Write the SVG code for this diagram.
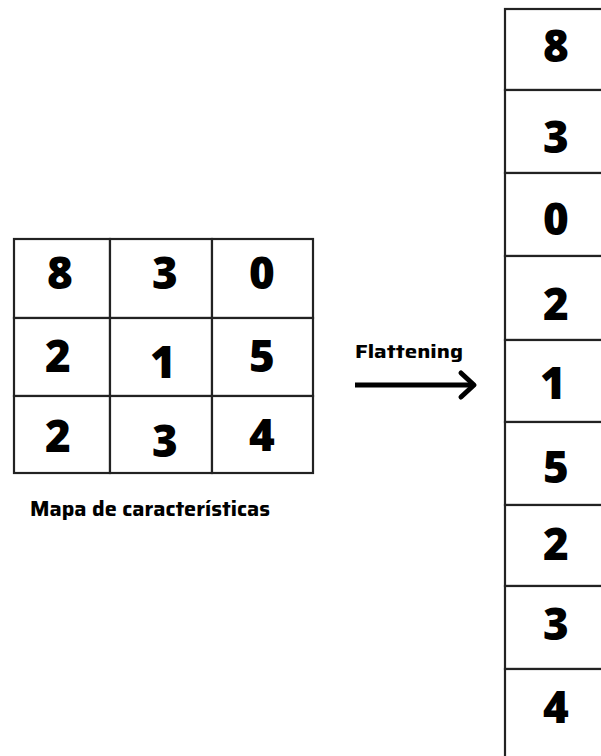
<svg xmlns="http://www.w3.org/2000/svg" width="601" height="756" viewBox="0 0 601 756">
<style>
.cell{fill:#fff;stroke:#222;stroke-width:2.2}
.d{font-family:"Open Sans","DejaVu Sans",sans-serif;font-weight:800;font-size:44px;fill:#000;text-anchor:middle}
.lbl{font-family:"Saira","Roboto","Liberation Sans",sans-serif;font-weight:700;fill:#000}
</style>
<rect width="601" height="756" fill="#fff"/>
<g id="feature-map">
<rect class="cell" x="14" y="239" width="96" height="79"/>
<rect class="cell" x="110" y="239" width="102" height="79"/>
<rect class="cell" x="212" y="239" width="101" height="79"/>
<rect class="cell" x="14" y="318" width="96" height="78"/>
<rect class="cell" x="110" y="318" width="102" height="78"/>
<rect class="cell" x="212" y="318" width="101" height="78"/>
<rect class="cell" x="14" y="396" width="96" height="77"/>
<rect class="cell" x="110" y="396" width="102" height="77"/>
<rect class="cell" x="212" y="396" width="101" height="77"/>
<text class="d" x="60" y="289">8</text>
<text class="d" x="165" y="289">3</text>
<text class="d" x="262" y="289">0</text>
<text class="d" x="58" y="372">2</text>
<text class="d" x="163" y="378">1</text>
<text class="d" x="262" y="372">5</text>
<text class="d" x="58" y="452">2</text>
<text class="d" x="165" y="457">3</text>
<text class="d" x="262" y="451">4</text>
</g>
<g id="label-map">
<text class="lbl" x="30" y="516" font-size="21" textLength="240" lengthAdjust="spacingAndGlyphs">Mapa de características</text>
</g>
<g id="flat-vector">
<rect class="cell" x="505" y="9" width="110" height="81"/>
<rect class="cell" x="505" y="90" width="110" height="83"/>
<rect class="cell" x="505" y="173" width="110" height="83"/>
<rect class="cell" x="505" y="256" width="110" height="84"/>
<rect class="cell" x="505" y="340" width="110" height="82"/>
<rect class="cell" x="505" y="422" width="110" height="83"/>
<rect class="cell" x="505" y="505" width="110" height="81"/>
<rect class="cell" x="505" y="586" width="110" height="83"/>
<rect class="cell" x="505" y="669" width="110" height="95"/>
<text class="d" x="556" y="62">8</text>
<text class="d" x="556" y="153">3</text>
<text class="d" x="556" y="235">0</text>
<text class="d" x="556" y="320">2</text>
<text class="d" x="553" y="399">1</text>
<text class="d" x="556" y="483">5</text>
<text class="d" x="556" y="560">2</text>
<text class="d" x="556" y="640">3</text>
<text class="d" x="556" y="723">4</text>
</g>
<g id="connectors">
<line x1="355" y1="385" x2="472" y2="385" stroke="#000" stroke-width="5"/>
<polyline points="461,373 474,385 461,397" fill="none" stroke="#000" stroke-width="5" stroke-linecap="round" stroke-linejoin="round"/>
<text class="lbl" x="355" y="358" font-size="19" textLength="108" lengthAdjust="spacingAndGlyphs">Flattening</text>
</g>
</svg>
